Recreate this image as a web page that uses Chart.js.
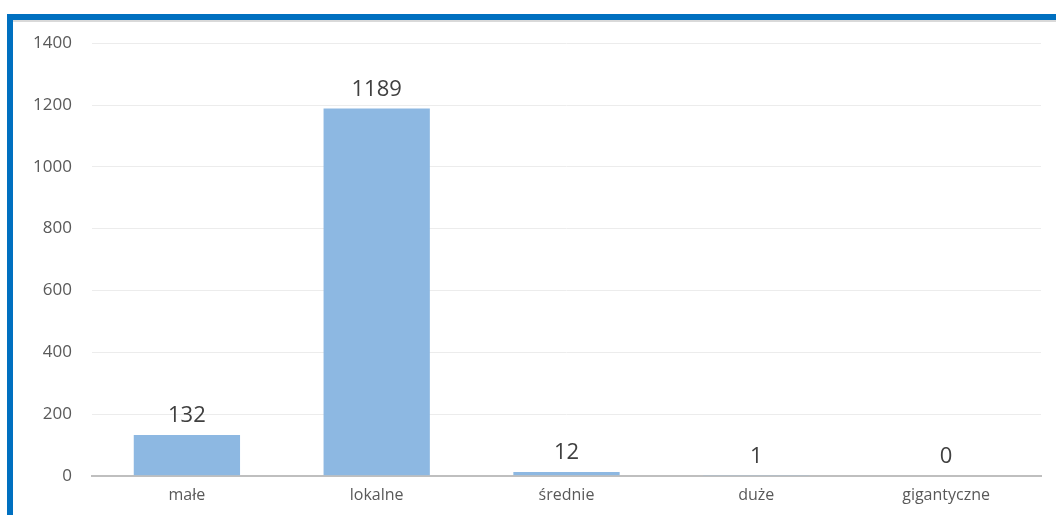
<!DOCTYPE html>
<html>
<head>
<meta charset="utf-8">
<script src="https://cdn.jsdelivr.net/npm/chart.js@4"></script>
<style>
  html, body { margin: 0; padding: 0; background: #fff; }
  body { width: 1056px; height: 515px; overflow: hidden; position: relative; }
  .frame {
    position: absolute; left: 7px; top: 14px; right: 0; bottom: 0;
    border-top: 6px solid #0070c0; border-left: 6px solid #0070c0;
  }
  .frame::after {
    content: ""; position: absolute; left: 0; right: 0; top: 0; height: 2px; background: #d9d9d9;
  }
  .box { position: absolute; left: 13px; top: 13px; width: 1043px; height: 502px; }
</style>
</head>
<body>
<div class="frame"></div>
<div class="box"><canvas id="chart"></canvas></div>
<script>
const categories = ["małe", "lokalne", "średnie", "duże", "gigantyczne"];
const counts = [132, 1189, 12, 1, 0];
const yTicks = [0, 200, 400, 600, 800, 1000, 1200, 1400];

const valueLabels = {
  id: "valueLabels",
  afterDatasetsDraw(chart) {
    const ctx = chart.ctx;
    const meta = chart.getDatasetMeta(0);
    ctx.save();
    ctx.font = "22px 'Open Sans'";
    ctx.fillStyle = "#404040";
    ctx.textAlign = "center";
    ctx.textBaseline = "bottom";
    meta.data.forEach((bar, i) => {
      ctx.fillText(String(counts[i]), bar.x, bar.y - 8);
    });
    ctx.restore();
  }
};

new Chart(document.getElementById("chart"), {
  type: "bar",
  data: {
    labels: categories,
    datasets: [{
      data: counts,
      backgroundColor: "#8db8e2",
      barPercentage: 0.56,
      categoryPercentage: 1
    }]
  },
  options: {
    responsive: true,
    maintainAspectRatio: false,
    animation: false,
    layout: { padding: { top: 7, right: 15, bottom: 0 } },
    plugins: { legend: { display: false }, tooltip: { enabled: false } },
    scales: {
      x: {
        grid: { display: false, drawTicks: false },
        border: { color: "#bfbfbf", width: 2 },
        ticks: { color: "#595959", font: { family: "Open Sans", size: 16 }, padding: 10 }
      },
      y: {
        min: 0,
        max: 1400,
        afterFit(scale) { scale.width = 79; },
        afterBuildTicks(scale) { scale.ticks = yTicks.map(v => ({ value: v })); },
        grid: { color: "#ececec", lineWidth: 1, drawTicks: false },
        border: { display: false },
        ticks: {
          color: "#595959",
          font: { family: "Open Sans", size: 17 },
          padding: 20,
          callback: v => String(v)
        }
      }
    }
  },
  plugins: [valueLabels]
});
</script>
</body>
</html>
